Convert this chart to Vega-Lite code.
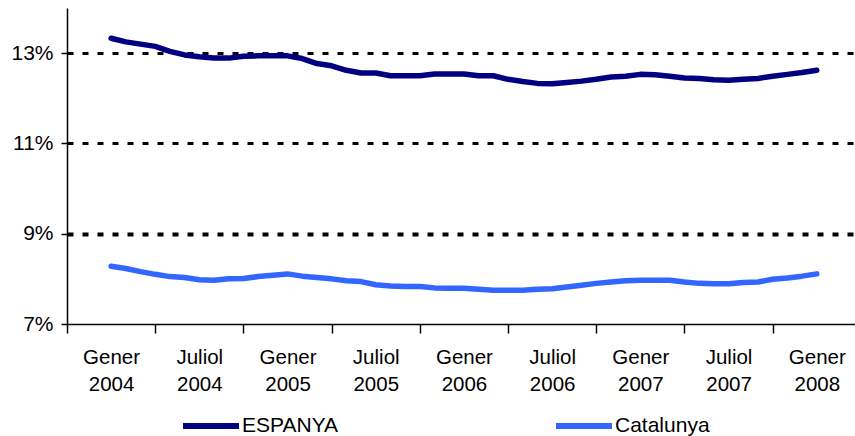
{
  "$schema": "https://vega.github.io/schema/vega-lite/v6.json",
  "width": 788,
  "height": 316,
  "autosize": {"type": "none"},
  "padding": {"left": 67, "top": 8, "right": 0, "bottom": 112},
  "background": "white",
  "config": {"view": {"stroke": null}, "font": "Liberation Sans"},
  "data": {
    "values": [
      {"mes":0,"serie":"ESPANYA","taxa":13.33},{"mes":1,"serie":"ESPANYA","taxa":13.25},{"mes":2,"serie":"ESPANYA","taxa":13.2},{"mes":3,"serie":"ESPANYA","taxa":13.15},{"mes":4,"serie":"ESPANYA","taxa":13.04},{"mes":5,"serie":"ESPANYA","taxa":12.96},{"mes":6,"serie":"ESPANYA","taxa":12.92},{"mes":7,"serie":"ESPANYA","taxa":12.89},{"mes":8,"serie":"ESPANYA","taxa":12.89},{"mes":9,"serie":"ESPANYA","taxa":12.93},{"mes":10,"serie":"ESPANYA","taxa":12.94},{"mes":11,"serie":"ESPANYA","taxa":12.94},{"mes":12,"serie":"ESPANYA","taxa":12.94},{"mes":13,"serie":"ESPANYA","taxa":12.88},{"mes":14,"serie":"ESPANYA","taxa":12.77},{"mes":15,"serie":"ESPANYA","taxa":12.72},{"mes":16,"serie":"ESPANYA","taxa":12.62},{"mes":17,"serie":"ESPANYA","taxa":12.56},{"mes":18,"serie":"ESPANYA","taxa":12.56},{"mes":19,"serie":"ESPANYA","taxa":12.5},{"mes":20,"serie":"ESPANYA","taxa":12.5},{"mes":21,"serie":"ESPANYA","taxa":12.5},{"mes":22,"serie":"ESPANYA","taxa":12.54},{"mes":23,"serie":"ESPANYA","taxa":12.54},{"mes":24,"serie":"ESPANYA","taxa":12.54},{"mes":25,"serie":"ESPANYA","taxa":12.5},{"mes":26,"serie":"ESPANYA","taxa":12.5},{"mes":27,"serie":"ESPANYA","taxa":12.42},{"mes":28,"serie":"ESPANYA","taxa":12.37},{"mes":29,"serie":"ESPANYA","taxa":12.33},{"mes":30,"serie":"ESPANYA","taxa":12.32},{"mes":31,"serie":"ESPANYA","taxa":12.35},{"mes":32,"serie":"ESPANYA","taxa":12.38},{"mes":33,"serie":"ESPANYA","taxa":12.42},{"mes":34,"serie":"ESPANYA","taxa":12.47},{"mes":35,"serie":"ESPANYA","taxa":12.49},{"mes":36,"serie":"ESPANYA","taxa":12.53},{"mes":37,"serie":"ESPANYA","taxa":12.52},{"mes":38,"serie":"ESPANYA","taxa":12.49},{"mes":39,"serie":"ESPANYA","taxa":12.45},{"mes":40,"serie":"ESPANYA","taxa":12.44},{"mes":41,"serie":"ESPANYA","taxa":12.41},{"mes":42,"serie":"ESPANYA","taxa":12.4},{"mes":43,"serie":"ESPANYA","taxa":12.42},{"mes":44,"serie":"ESPANYA","taxa":12.44},{"mes":45,"serie":"ESPANYA","taxa":12.49},{"mes":46,"serie":"ESPANYA","taxa":12.53},{"mes":47,"serie":"ESPANYA","taxa":12.57},{"mes":48,"serie":"ESPANYA","taxa":12.62},
      {"mes":0,"serie":"Catalunya","taxa":8.28},{"mes":1,"serie":"Catalunya","taxa":8.23},{"mes":2,"serie":"Catalunya","taxa":8.16},{"mes":3,"serie":"Catalunya","taxa":8.1},{"mes":4,"serie":"Catalunya","taxa":8.05},{"mes":5,"serie":"Catalunya","taxa":8.03},{"mes":6,"serie":"Catalunya","taxa":7.98},{"mes":7,"serie":"Catalunya","taxa":7.97},{"mes":8,"serie":"Catalunya","taxa":8.0},{"mes":9,"serie":"Catalunya","taxa":8.01},{"mes":10,"serie":"Catalunya","taxa":8.05},{"mes":11,"serie":"Catalunya","taxa":8.08},{"mes":12,"serie":"Catalunya","taxa":8.11},{"mes":13,"serie":"Catalunya","taxa":8.06},{"mes":14,"serie":"Catalunya","taxa":8.03},{"mes":15,"serie":"Catalunya","taxa":8.0},{"mes":16,"serie":"Catalunya","taxa":7.96},{"mes":17,"serie":"Catalunya","taxa":7.94},{"mes":18,"serie":"Catalunya","taxa":7.87},{"mes":19,"serie":"Catalunya","taxa":7.84},{"mes":20,"serie":"Catalunya","taxa":7.83},{"mes":21,"serie":"Catalunya","taxa":7.83},{"mes":22,"serie":"Catalunya","taxa":7.8},{"mes":23,"serie":"Catalunya","taxa":7.79},{"mes":24,"serie":"Catalunya","taxa":7.79},{"mes":25,"serie":"Catalunya","taxa":7.77},{"mes":26,"serie":"Catalunya","taxa":7.75},{"mes":27,"serie":"Catalunya","taxa":7.75},{"mes":28,"serie":"Catalunya","taxa":7.75},{"mes":29,"serie":"Catalunya","taxa":7.77},{"mes":30,"serie":"Catalunya","taxa":7.78},{"mes":31,"serie":"Catalunya","taxa":7.82},{"mes":32,"serie":"Catalunya","taxa":7.86},{"mes":33,"serie":"Catalunya","taxa":7.9},{"mes":34,"serie":"Catalunya","taxa":7.93},{"mes":35,"serie":"Catalunya","taxa":7.96},{"mes":36,"serie":"Catalunya","taxa":7.97},{"mes":37,"serie":"Catalunya","taxa":7.97},{"mes":38,"serie":"Catalunya","taxa":7.97},{"mes":39,"serie":"Catalunya","taxa":7.93},{"mes":40,"serie":"Catalunya","taxa":7.9},{"mes":41,"serie":"Catalunya","taxa":7.89},{"mes":42,"serie":"Catalunya","taxa":7.89},{"mes":43,"serie":"Catalunya","taxa":7.92},{"mes":44,"serie":"Catalunya","taxa":7.93},{"mes":45,"serie":"Catalunya","taxa":7.99},{"mes":46,"serie":"Catalunya","taxa":8.02},{"mes":47,"serie":"Catalunya","taxa":8.06},{"mes":48,"serie":"Catalunya","taxa":8.11}
    ]
  },
  "mark": {"type": "line", "strokeWidth": 5.5, "strokeCap": "round", "strokeJoin": "round"},
  "encoding": {
    "x": {
      "field": "mes",
      "type": "quantitative",
      "scale": {"domain": [-3, 50.6], "nice": false, "zero": false},
      "axis": {
        "title": null,
        "values": [-3,0,3,6,9,12,15,18,21,24,27,30,33,36,39,42,45,48],
        "labelExpr": "datum.value % 6 === 0 ? [datum.value % 12 === 0 ? 'Gener' : 'Juliol', '' + (2004 + floor(datum.value / 12))] : ''",
        "labelFontSize": 20.5,
        "labelColor": "black",
        "labelLineHeight": 27,
        "labelPadding": 14,
        "labelOverlap": false,
        "labelBound": false,
        "labelFlush": false,
        "domainColor": "black",
        "domainWidth": 1.5,
        "tickColor": "black",
        "tickWidth": 1.5,
        "tickSize": 9,
        "tickOpacity": {"condition": {"test": "datum.value % 6 === 0", "value": 0}, "value": 1},
        "grid": false
      }
    },
    "y": {
      "field": "taxa",
      "type": "quantitative",
      "scale": {"domain": [7, 14], "nice": false, "zero": false},
      "axis": {
        "title": null,
        "values": [7, 9, 11, 13],
        "labelExpr": "datum.value + '%'",
        "labelFontSize": 21,
        "labelColor": "black",
        "labelPadding": 8,
        "domainColor": "black",
        "domainWidth": 1.5,
        "tickColor": "black",
        "tickWidth": 1.5,
        "tickSize": 6,
        "grid": true,
        "gridColor": "black",
        "gridDash": [6, 9],
        "gridWidth": {"condition": {"test": "datum.value === 9", "value": 4}, "value": 3},
        "gridOpacity": {"condition": {"test": "datum.value === 7", "value": 0}, "value": 1}
      }
    },
    "color": {
      "field": "serie",
      "type": "nominal",
      "scale": {"domain": ["ESPANYA", "Catalunya"], "range": ["#000080", "#3366FF"]},
      "legend": {
        "title": null,
        "orient": "none",
        "direction": "horizontal",
        "legendX": 113,
        "legendY": 387,
        "symbolType": "stroke",
        "symbolSize": 3136,
        "symbolStrokeWidth": 6,
        "labelFontSize": 21,
        "labelColor": "black",
        "labelOffset": 0,
        "columnPadding": 205
      }
    }
  }
}
